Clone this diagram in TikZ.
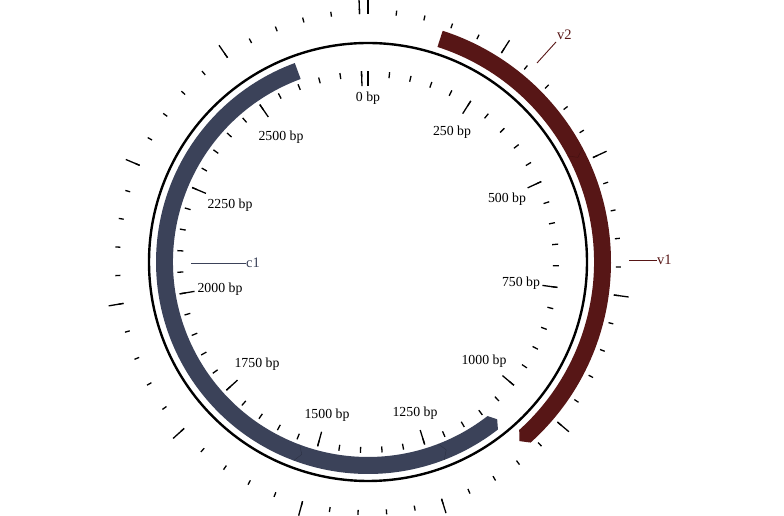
\documentclass[tikz,border=0pt]{standalone}
\usepackage{fontspec}
\setmainfont{Liberation Serif}
\definecolor{cblue}{HTML}{3B4259}
\definecolor{cred}{HTML}{571616}
\begin{document}
\begin{tikzpicture}[x=1pt,y=1pt,
  tickline/.style={line width=1.3pt, black},
  ticklabel/.style={font=\fontsize{13.8}{16}\selectfont, inner sep=0pt},
  featlabel/.style={font=\fontsize{14.5}{16}\selectfont, inner sep=0pt},
  segline/.style={line width=0.4pt}]
\useasboundingbox (0,0) rectangle (784,516);
\coordinate (O) at (368,254);
\def\L{2765}
% backbone
\draw[line width=2.4pt] (O) circle[radius=219];
% ticks (minor, inner and outer)
\foreach \b in {0,50,...,2750}{
  \pgfmathsetmacro\a{90-\b/\L*360}
  \draw[tickline] ([shift={(\a:185)}]O) -- ([shift={(\a:191)}]O);
  \draw[tickline] ([shift={(\a:248)}]O) -- ([shift={(\a:253)}]O);
}
% major ticks
\foreach \b in {0,250,...,2750}{
  \pgfmathsetmacro\a{90-\b/\L*360}
  \draw[tickline] ([shift={(\a:176)}]O) -- ([shift={(\a:191)}]O);
  \draw[tickline] ([shift={(\a:248)}]O) -- ([shift={(\a:263)}]O);
}
% tick labels
\node[ticklabel] (l0) at (368,418) {0 bp};
\node[ticklabel] (l250) at (452,384) {250 bp};
\node[ticklabel] (l500) at (507,317) {500 bp};
\node[ticklabel] (l750) at (521,233) {750 bp};
\node[ticklabel] (l1000) at (484,155) {1000 bp};
\node[ticklabel] (l1250) at (415,103) {1250 bp};
\node[ticklabel] (l1500) at (327,101) {1500 bp};
\node[ticklabel] (l1750) at (257,152) {1750 bp};
\node[ticklabel] (l2000) at (220,227) {2000 bp};
\node[ticklabel] (l2250) at (230,311) {2250 bp};
\node[ticklabel] (l2500) at (281,379) {2500 bp};
% feature c1 (inner, complement strand)
\fill[cblue] ([shift={(-52.2:212)}]O) arc[start angle=-52.2, end angle=-249.8, radius=212]
  -- ([shift={(-249.8:195)}]O) arc[start angle=-249.8, end angle=-52.2, radius=195]
  -- ([shift={(-50.6:203.5)}]O) -- cycle;
\draw[segline, cblue!75!black] ([shift={(-68.9:195)}]O) -- ([shift={(-67.4:203.5)}]O) -- ([shift={(-68.9:212)}]O);
\draw[segline, cblue!75!black] ([shift={(-110.5:195)}]O) -- ([shift={(-109:203.5)}]O) -- ([shift={(-110.5:212)}]O);
% feature v2 / v1 (outer, forward strand)
\fill[cred] ([shift={(72.1:226)}]O) arc[start angle=72.1, end angle=-48, radius=226]
  -- ([shift={(-49.8:234.5)}]O)
  -- ([shift={(-48:243)}]O) arc[start angle=-48, end angle=72.1, radius=243]
  -- cycle;
\draw[segline, cred!75!black] ([shift={(28:226)}]O) -- ([shift={(26.5:234.5)}]O) -- ([shift={(28:243)}]O);
% feature labels
\coordinate (v2a) at (537,453);
\coordinate (v2b) at (556,474);
\node[featlabel, text=cred, anchor=south west] (v2) at (557,476) {v2};
\draw[cred, line width=0.9pt] (v2a) -- (v2b);
\coordinate (v1a) at (629,256);
\node[featlabel, text=cred, anchor=west] (v1) at (657,256) {v1};
\draw[cred, line width=0.9pt] (v1a) -- (v1.west);
\coordinate (c1a) at (191,253);
\node[featlabel, text=cblue, anchor=west] (c1) at (246,253) {c1};
\draw[cblue, line width=0.9pt] (c1a) -- (c1.west);
\end{tikzpicture}
\end{document}
